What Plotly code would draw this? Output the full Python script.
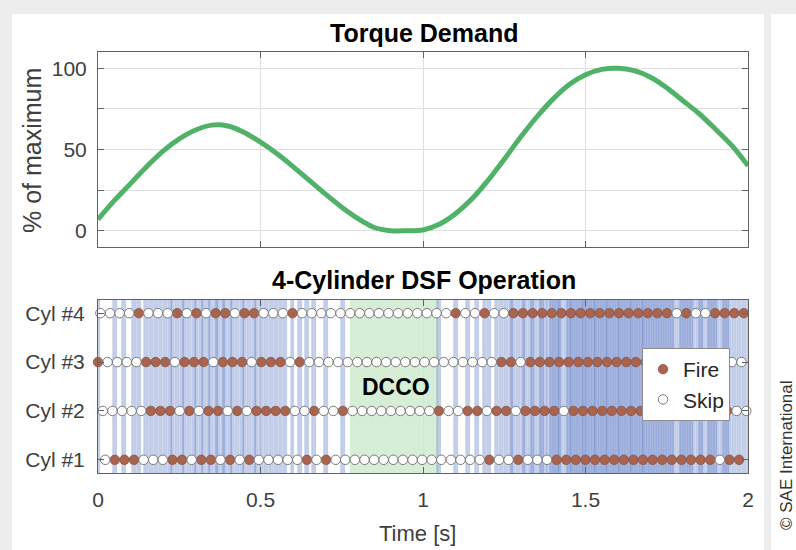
import plotly.graph_objects as go

# ---------------- data ----------------
torque_time = [0.00, 0.05, 0.10, 0.15, 0.20, 0.25, 0.30, 0.35, 0.40, 0.45,
               0.50, 0.55, 0.60, 0.65, 0.70, 0.75, 0.80, 0.85, 0.90, 0.95,
               1.00, 1.05, 1.10, 1.15, 1.20, 1.25, 1.30, 1.35, 1.40, 1.45,
               1.50, 1.55, 1.60, 1.65, 1.70, 1.75, 1.80, 1.85, 1.90, 1.95, 2.00]
torque_pct = [7, 18.5, 29, 39.5, 49, 56.5, 62, 65, 64.5, 60.5,
              54.5, 47.5, 39.5, 31, 22.5, 14.5, 7.5, 2, 0, 0,
              0.5, 4, 10.5, 19.5, 31, 44, 57.5, 70, 81, 90,
              96, 99.3, 100, 98.5, 94.5, 88, 80, 72, 62.5, 52.5, 40]

cyl_labels = ["Cyl #1", "Cyl #2", "Cyl #3", "Cyl #4"]
cyl_rows = [1, 2, 3, 4]
# fire (1) / skip (0) for each firing opportunity of each cylinder
cyl1_fire = "01110001101101010000010100000000000000001001000111111111111111110111"
cyl2_fire = "00000111010110101111001001000000000100110110111101111111111111111100"
cyl3_fire = "10000111011101110111010000000000000000000011011111111111111111111100"
cyl4_fire = "00001000101011011000100000000000000001001001111111111111111101001111"
cyl_patterns = [cyl1_fire, cyl2_fire, cyl3_fire, cyl4_fire]
firing_period_s = 0.02955          # time between two events of one cylinder
cyl_phase = [0.75, 0.50, 0.00, 0.25]  # fraction of a period, Cyl #1..#4
dcco_window = [0.775, 1.048]

torque_ticks = [0, 25, 50, 75, 100]
torque_ticktext = ["0", "", "50", "", "100"]
time_ticks = [0, 0.5, 1, 1.5, 2]
time_ticktext = ["0", "0.5", "1", "1.5", "2"]

# ---------------- build event lists ----------------
fire_x, fire_y, skip_x, skip_y = [], [], [], []
for row, pat, ph in zip(cyl_rows, cyl_patterns, cyl_phase):
    for k, c in enumerate(pat):
        t = (k + ph) * firing_period_s
        if c == "1":
            fire_x.append(t); fire_y.append(row)
        else:
            skip_x.append(t); skip_y.append(row)

W, H = 796, 550
def px(x): return x / W
def py(y): return 1 - y / H

FONT = "Liberation Sans, Arial, sans-serif"
TICKC = "#404040"
AXC = "#626262"
GRIDC = "#dedede"
FRAME = "#ededed"

fig = go.Figure()

fig.add_trace(go.Scatter(x=torque_time, y=torque_pct, mode="lines",
                         line=dict(color="#50b268", width=5, shape="spline", smoothing=0.8),
                         showlegend=False, xaxis="x", yaxis="y", hoverinfo="skip"))

# firing bands (one translucent band per fired event)
fig.add_trace(go.Bar(x=fire_x, y=[4.0] * len(fire_x), base=0.5,
                     width=firing_period_s / 4 * 1.6,
                     marker=dict(color="rgba(100,128,200,0.38)",
                                 line=dict(color="rgba(85,110,185,0.32)", width=0.6)),
                     showlegend=False, xaxis="x2", yaxis="y2", hoverinfo="skip"))

fig.add_trace(go.Scatter(x=fire_x, y=fire_y, mode="markers", name="Fire",
                         marker=dict(size=9.5, color="#a8644f",
                                     line=dict(color="#8a5444", width=0.8)),
                         cliponaxis=False, xaxis="x2", yaxis="y2"))
fig.add_trace(go.Scatter(x=skip_x, y=skip_y, mode="markers", name="Skip",
                         marker=dict(size=9.5, color="white",
                                     line=dict(color="#7a7a7a", width=1)),
                         cliponaxis=False, xaxis="x2", yaxis="y2"))

xdom = [px(98), px(748)]
axis_common = dict(showline=True, linecolor=AXC, linewidth=1, mirror="ticks",
                   ticks="inside", ticklen=6, tickcolor=AXC, automargin=False,
                   showgrid=True, gridcolor=GRIDC, gridwidth=1, zeroline=False,
                   tickfont=dict(family=FONT, size=21, color=TICKC))

shapes = [
    # light grey frame around the white figure panel
    dict(type="rect", xref="paper", yref="paper", x0=0, x1=1, y0=py(14), y1=1,
         fillcolor=FRAME, line=dict(width=0), layer="below"),
    dict(type="rect", xref="paper", yref="paper", x0=0, x1=px(12), y0=0, y1=1,
         fillcolor=FRAME, line=dict(width=0), layer="below"),
    dict(type="rect", xref="paper", yref="paper", x0=px(764), x1=px(771), y0=0, y1=1,
         fillcolor=FRAME, line=dict(width=0), layer="below"),
    dict(type="rect", xref="x2", yref="y2", x0=dcco_window[0], x1=dcco_window[1],
         y0=0.73, y1=4.27, fillcolor="#d6eed6", line=dict(width=0), layer="below"),
]

def ann(text, x, y, size, color, angle=0, xref="paper", yref="paper"):
    return dict(text=text, x=x, y=y, xref=xref, yref=yref, textangle=angle,
                xanchor="center", yanchor="middle", showarrow=False,
                font=dict(family=FONT, size=size, color=color))

annotations = [
    ann("<b>Torque Demand</b>", px(424), py(33), 25, "black"),
    ann("<b>4-Cylinder DSF Operation</b>", px(424), py(280), 25, "black"),
    ann("% of maximum", px(32), py(151), 25, TICKC, angle=-90),
    ann("Time [s]", px(417), py(533), 22, TICKC),
    ann("<b>DCCO</b>", 0.918, 2.5, 23, "black", xref="x2", yref="y2"),
    ann("© SAE International", px(786), py(455), 17, "#333333", angle=-90),
]

fig.update_layout(
    width=W, height=H, margin=dict(l=0, r=0, t=0, b=0, autoexpand=False),
    paper_bgcolor="white", plot_bgcolor="white",
    barmode="overlay", bargap=0,
    xaxis=dict(domain=xdom, anchor="y", range=[0, 2], tickvals=time_ticks,
               showticklabels=False, **axis_common),
    yaxis=dict(domain=[py(247), py(52)], anchor="x", range=[-10, 110],
               tickvals=torque_ticks, ticktext=torque_ticktext,
               ticklabelstandoff=6, **axis_common),
    xaxis2=dict(domain=xdom, anchor="y2", range=[0, 2], tickvals=time_ticks,
                ticktext=time_ticktext, ticklabelstandoff=8, **axis_common),
    yaxis2=dict(domain=[py(473), py(300)], anchor="x2", range=[0.73, 4.27],
                tickvals=cyl_rows, ticktext=cyl_labels, ticklabelstandoff=8,
                **axis_common),
    legend=dict(x=px(642), y=py(348), xanchor="left", yanchor="top",
                bgcolor="white", bordercolor="#8c8c8c", borderwidth=1,
                font=dict(family=FONT, size=21, color="#262626"),
                tracegroupgap=2),
    shapes=shapes, annotations=annotations,
)

fig.write_html("out.html", config={"displayModeBar": False},
               post_script="document.body.style.margin='0';")
